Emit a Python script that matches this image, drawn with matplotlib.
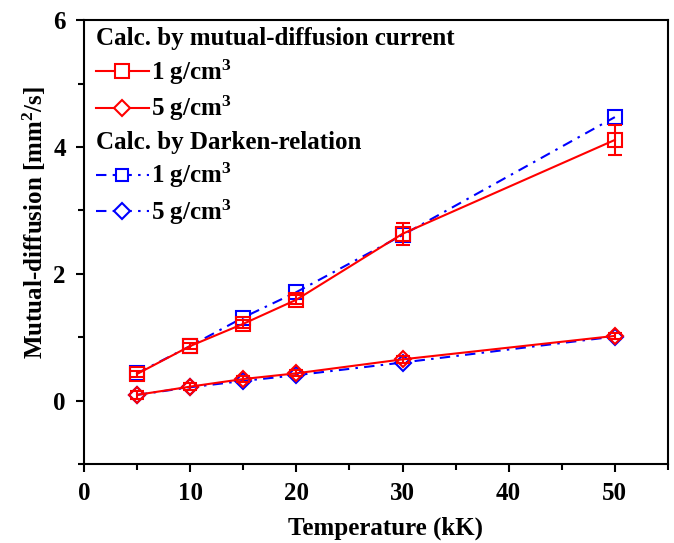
import matplotlib.pyplot as plt
from matplotlib.lines import Line2D
from matplotlib.ticker import MultipleLocator

# --- data ---
temps = [5, 10, 15, 20, 30, 50]  # kK

cur_1g = [0.42, 0.86, 1.21, 1.59, 2.63, 4.11]
cur_1g_err = [0.05, 0.05, 0.06, 0.07, 0.17, 0.23]
cur_5g = [0.09, 0.22, 0.34, 0.43, 0.65, 1.02]
cur_5g_err = [0.06, 0.05, 0.05, 0.05, 0.05, 0.05]

dark_1g = [0.43, 0.86, 1.31, 1.71, 2.61, 4.47]
dark_5g = [0.09, 0.21, 0.31, 0.40, 0.60, 1.01]

plt.rcParams['font.family'] = ['Liberation Serif', 'DejaVu Serif']
plt.rcParams['font.weight'] = 'bold'
plt.rcParams['font.size'] = 18
plt.rcParams['mathtext.fontset'] = 'custom'
plt.rcParams['mathtext.rm'] = 'Liberation Serif:bold'
plt.rcParams['mathtext.default'] = 'rm'

RED = '#ff0000'
BLUE = '#0000ff'
DASHDOT = (0, (5, 3, 1.2, 3))

fig = plt.figure(figsize=(6.74, 5.43), dpi=100)
ax = fig.add_axes([0.1246, 0.1455, 0.8664, 0.8175])

# Darken relation (blue, dash-dot)
ax.plot(temps, dark_1g, color=BLUE, ls=DASHDOT, lw=1.5, marker='s', ms=9.5,
        mfc='none', mec=BLUE, mew=1.5)
ax.plot(temps, dark_5g, color=BLUE, ls=DASHDOT, lw=1.5, marker='D', ms=8,
        mfc='none', mec=BLUE, mew=1.5)

# mutual-diffusion current (red, solid, with error bars)
ax.errorbar(temps, cur_1g, yerr=cur_1g_err, color=RED, lw=1.5, marker='s', ms=9.5,
            mfc='none', mec=RED, mew=1.5, capsize=5, capthick=1.5, elinewidth=1.5)
ax.errorbar(temps, cur_5g, yerr=cur_5g_err, color=RED, lw=1.5, marker='D', ms=8,
            mfc='none', mec=RED, mew=1.5, capsize=5, capthick=1.5, elinewidth=1.5)

ax.set_xlim(0, 55)
ax.set_ylim(-1, 6)
ax.xaxis.set_major_locator(MultipleLocator(10))
ax.xaxis.set_minor_locator(MultipleLocator(5))
ax.yaxis.set_major_locator(MultipleLocator(2))
ax.yaxis.set_minor_locator(MultipleLocator(1))
ax.tick_params(which='both', direction='out', width=1.5, top=False, right=False)
ax.tick_params(which='major', length=6, pad=7)
ax.tick_params(which='minor', length=4)
for s in ax.spines.values():
    s.set_linewidth(1.5)

ax.set_xlabel('Temperature (kK)', fontweight='bold')
ax.set_ylabel('Mutual-diffusion [mm$^2$/s]', fontweight='bold')
ax.xaxis.set_label_coords(0.517, -0.118)
ax.yaxis.set_label_coords(-0.062, 0.545)

# legends
def proxy(color, ls, marker, ms):
    return Line2D([], [], color=color, ls=ls, lw=1.5, marker=marker, ms=ms,
                  mfc='white', mec=color, mew=1.5)

leg_kw = dict(frameon=False, alignment='left', handlelength=2.1, handletextpad=0.1,
              labelspacing=0.3, borderpad=0, borderaxespad=0,
              title_fontproperties={'weight': 'bold', 'size': 18}, loc='upper left')

leg1 = ax.legend([proxy(RED, '-', 's', 9.5), proxy(RED, '-', 'D', 8)],
                 ['1 g/cm$^3$', '5 g/cm$^3$'], title='Calc. by mutual-diffusion current',
                 bbox_to_anchor=(0.021, 0.985), **leg_kw)
ax.add_artist(leg1)
ax.legend([proxy(BLUE, DASHDOT, 's', 8), proxy(BLUE, DASHDOT, 'D', 8)],
          ['1 g/cm$^3$', '5 g/cm$^3$'], title='Calc. by Darken-relation',
          bbox_to_anchor=(0.021, 0.751), **leg_kw)

fig.savefig('out.png', dpi=100)
